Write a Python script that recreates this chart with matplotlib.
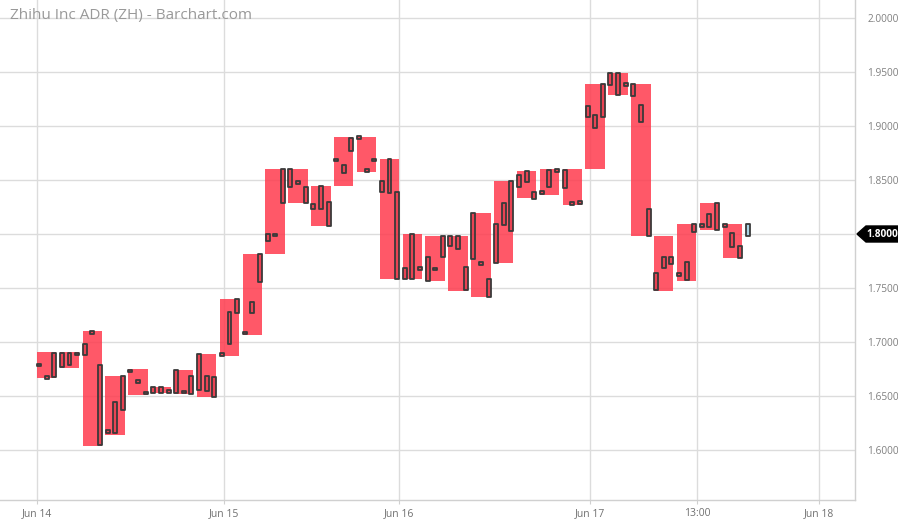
import matplotlib
matplotlib.use("Agg")
import matplotlib.pyplot as plt
from matplotlib.patches import Polygon
import numpy as np

plt.rcParams['font.family'] = ['Open Sans', 'DejaVu Sans']

title = "Zhihu Inc ADR (ZH) - Barchart.com"

# sub-candle bodies (high edge, low edge); equal values = single-tick candle
body_hi = [1.6787, 1.6673, 1.6895, 1.6898, 1.6898, 1.6889, 1.6981, 1.7086, 1.6787, 1.6170,
           1.6448, 1.6688, 1.6731, 1.6632, 1.6528, 1.6580, 1.6580, 1.6540, 1.6741, 1.6537,
           1.6688, 1.6889, 1.6685, 1.6676, 1.6886, 1.7281, 1.7395, 1.7083, 1.7373, 1.7812,
           1.8000, 1.7991, 1.8599, 1.8599, 1.8479, 1.8432, 1.8278, 1.8447, 1.8299, 1.8685,
           1.8639, 1.8892, 1.8892, 1.8586, 1.8685, 1.8494, 1.8694, 1.8392, 1.7682, 1.8000,
           1.7682, 1.7784, 1.7676, 1.7981, 1.7981, 1.7981, 1.7691, 1.8191, 1.7729, 1.7583,
           1.8093, 1.8284, 1.8494, 1.8546, 1.8586, 1.8392, 1.8383, 1.8593, 1.8586, 1.8593,
           1.8284, 1.8293, 1.9188, 1.9102, 1.9389, 1.9488, 1.9488, 1.9386, 1.9389, 1.9194,
           1.8231, 1.7636, 1.7790, 1.7784, 1.7627, 1.7744, 1.8090, 1.8077, 1.8185, 1.8290,
           1.8077, 1.8006, 1.7889, 1.8090]
body_lo = [1.6787, 1.6673, 1.6679, 1.6768, 1.6787, 1.6889, 1.6880, 1.7086, 1.6046, 1.6170,
           1.6160, 1.6370, 1.6731, 1.6632, 1.6528, 1.6525, 1.6525, 1.6540, 1.6528, 1.6537,
           1.6519, 1.6556, 1.6543, 1.6488, 1.6886, 1.6978, 1.7266, 1.7083, 1.7266, 1.7558,
           1.7938, 1.7991, 1.8284, 1.8438, 1.8479, 1.8284, 1.8231, 1.8228, 1.8077, 1.8685,
           1.8568, 1.8769, 1.8892, 1.8586, 1.8685, 1.8386, 1.8377, 1.7583, 1.7583, 1.7583,
           1.7682, 1.7568, 1.7676, 1.7784, 1.7892, 1.7861, 1.7481, 1.7769, 1.7729, 1.7420,
           1.7729, 1.8083, 1.8028, 1.8438, 1.8485, 1.8324, 1.8383, 1.8438, 1.8586, 1.8423,
           1.8284, 1.8293, 1.9086, 1.8979, 1.9080, 1.9380, 1.9287, 1.9386, 1.9281, 1.9034,
           1.7984, 1.7481, 1.7682, 1.7722, 1.7627, 1.7574, 1.8016, 1.8077, 1.8068, 1.8037,
           1.8077, 1.7883, 1.7781, 1.7984]

# grouped (3 sub-candles each) range boxes
box_hi = [1.6905, 1.6905, 1.7105, 1.6685, 1.6747, 1.6580, 1.6741, 1.6889, 1.7398, 1.7812,
          1.8599, 1.8599, 1.8447, 1.8895, 1.8901, 1.8694, 1.8000, 1.7981, 1.7981, 1.8191,
          1.8494, 1.8586, 1.8602, 1.8602, 1.9386, 1.9488, 1.9389, 1.7984, 1.8090, 1.8284,
          1.8090]
box_lo = [1.6669, 1.6762, 1.6040, 1.6139, 1.6506, 1.6525, 1.6519, 1.6488, 1.6870, 1.7065,
          1.7812, 1.8284, 1.8077, 1.8444, 1.8577, 1.7583, 1.7583, 1.7568, 1.7475, 1.7414,
          1.7734, 1.8330, 1.8361, 1.8269, 1.8599, 1.9287, 1.7984, 1.7475, 1.7565, 1.8037,
          1.7781]

last_price = 1.8000
x_tick_labels = ["Jun 14", "Jun 15", "Jun 16", "Jun 17", "13:00", "Jun 18"]
x_tick_pos = [-0.26, 24.3, 47.2, 72.3, 86.4, 102.4]
y_ticks = [1.60, 1.65, 1.70, 1.75, 1.80, 1.85, 1.90, 1.95, 2.00]

fig = plt.figure(figsize=(8.98, 5.2), dpi=100)
ax = fig.add_axes([0.0, 20/520, 855/898, 500/520])

grid_c = "#dcdcdc"
for t in y_ticks:
    ax.axhline(t, color=grid_c, lw=1, zorder=0)
for t in x_tick_pos:
    ax.axvline(t, color=grid_c, lw=1, zorder=0)

# boxes
n_box = len(box_hi)
bx = np.arange(n_box) * 3 + 1
bh = np.array(box_hi) - np.array(box_lo)
ax.bar(bx, bh, bottom=box_lo, width=2.55, color="#ff3b4e", alpha=0.85,
       linewidth=0, zorder=2)

# sub-candles
hi = np.array(body_hi)
lo = np.array(body_lo)
h = np.maximum(hi - lo, 0.0026)
mid = (hi + lo) / 2
xs = np.arange(len(hi))
fc = [(0.72, 0.08, 0.14, 0.30)] * (len(hi) - 1) + ["#a9d4e4"]
ax.bar(xs, h, bottom=mid - h / 2, width=0.52, color=fc, edgecolor="#3a3a3a",
       linewidth=1.3, joinstyle="round", zorder=3)

ax.set_xlim(-5.12, 107.1)
ax.set_ylim(1.5537, 2.01667)

for s in ["left", "top"]:
    ax.spines[s].set_visible(False)
for s in ["right", "bottom"]:
    ax.spines[s].set_color("#d0d0d0")
    ax.spines[s].set_linewidth(1)

ax.yaxis.tick_right()
ax.set_yticks(y_ticks)
ax.set_yticklabels([f"{t:.4f}" for t in y_ticks])
ax.tick_params(axis="y", length=0, pad=9, labelsize=7.3, labelcolor="#808080")
ax.set_xticks(x_tick_pos)
ax.set_xticklabels(x_tick_labels)
ax.tick_params(axis="x", length=3, color="#d0d0d0", pad=3, labelsize=7.5,
               labelcolor="#707070")

fig.text(10/898, 1 - 16/520, title, fontsize=11, color="#999999", va="center", ha="left")

# last price tag (axes-x / data-y coordinates)
tr = ax.get_yaxis_transform()
dy = 8 / 1080
tag = Polygon([[857/855, last_price], [866/855, last_price + dy], [898/855, last_price + dy],
               [898/855, last_price - dy], [866/855, last_price - dy]],
              closed=True, transform=tr, fc="black", ec="black", clip_on=False, zorder=10)
ax.add_patch(tag)
ax.text(882/855, last_price, f"{last_price:.4f}", transform=tr,
        ha="center", va="center", fontsize=7.3, color="white", fontweight="bold",
        clip_on=False, zorder=11)

fig.savefig("out.png", dpi=100)
